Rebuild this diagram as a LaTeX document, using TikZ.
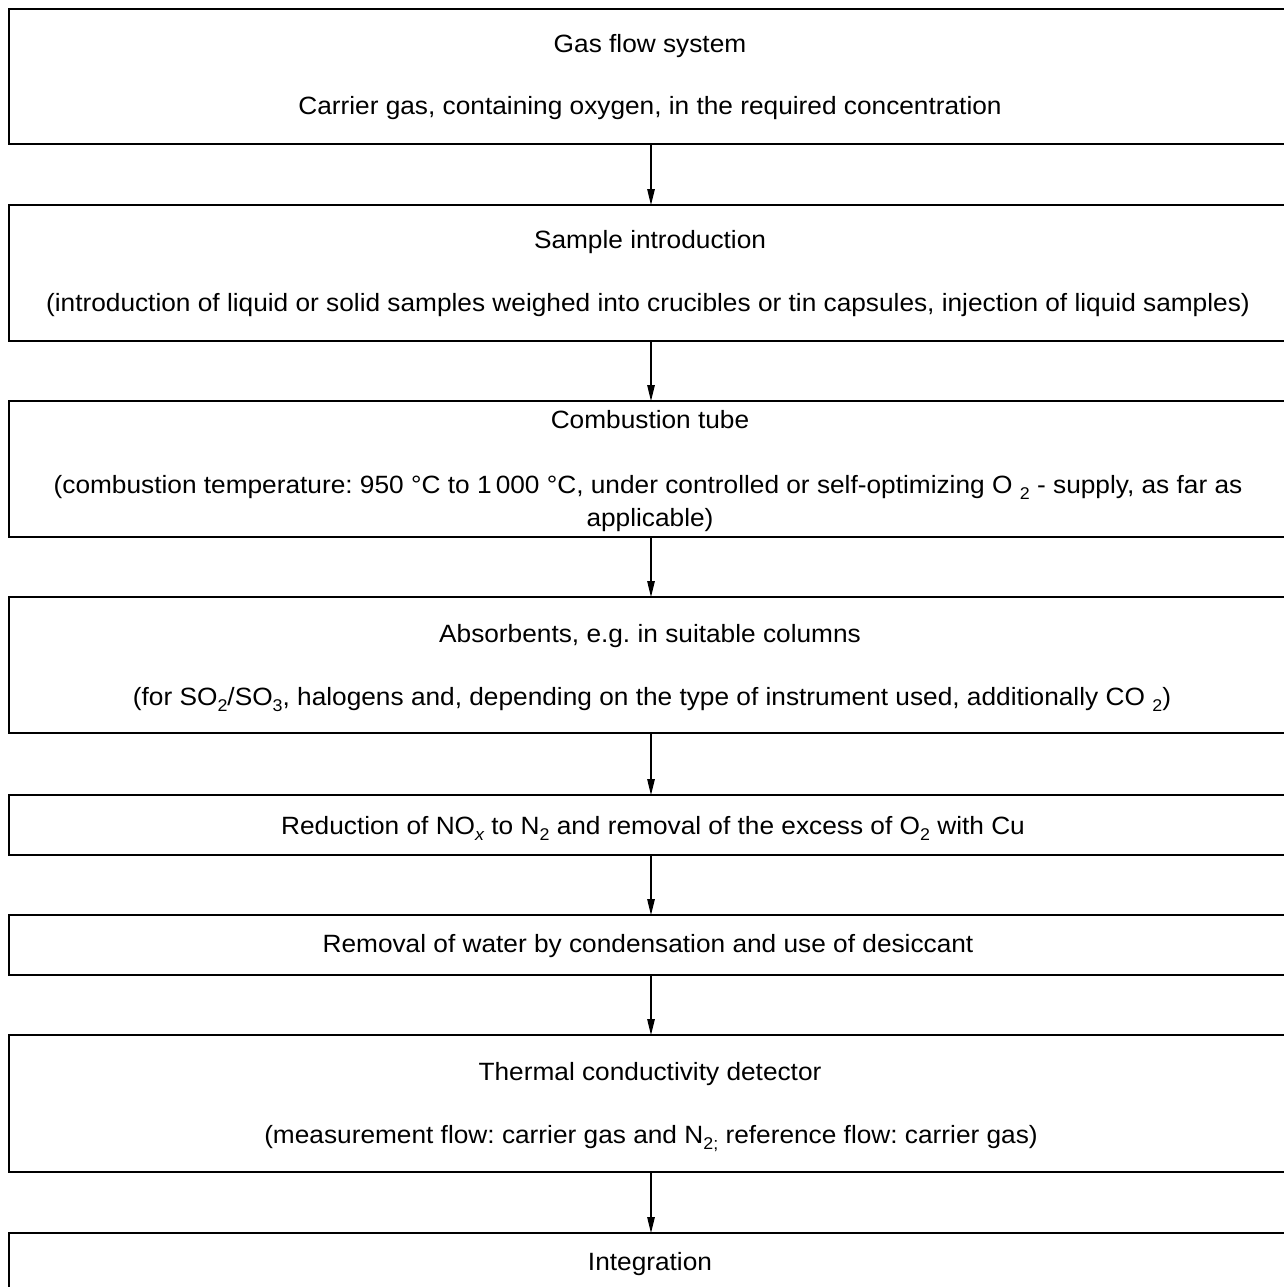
\documentclass[tikz,border=0pt]{standalone}
\usepackage{fontspec}
\setmainfont[FakeStretch=1.05]{Liberation Sans}
\usetikzlibrary{arrows.meta}
\newcommand{\lowsub}[1]{\raisebox{-0.25em}{\fontsize{17}{17}\selectfont #1}}
\frenchspacing
\begin{document}
\begin{tikzpicture}[x=1pt,y=-1pt,
  box/.style={draw, line width=1.8pt, minimum width=1284pt, inner sep=0pt, outer sep=0pt},
  txt/.style={font=\fontsize{25}{30}\selectfont, inner sep=0pt, anchor=base},
  flow/.style={line width=1.3pt, -{Triangle[length=16pt,width=7.5pt]}}]
\useasboundingbox (0,0) rectangle (1284,1287);
\clip (0,0) rectangle (1284,1287);
% boxes
\node[box, minimum height=135pt] (b1) at (651,76.5) {};
\node[box, minimum height=136pt] (b2) at (651,273) {};
\node[box, minimum height=136pt] (b3) at (651,469) {};
\node[box, minimum height=136pt] (b4) at (651,665) {};
\node[box, minimum height=60pt] (b5) at (651,825) {};
\node[box, minimum height=60pt] (b6) at (651,945) {};
\node[box, minimum height=137pt] (b7) at (651,1103.5) {};
\node[box, minimum height=136pt] (b8) at (651,1301) {};
% texts
\node[txt] (t1a) at (650,52.3) {Gas flow system};
\node[txt] (t1b) at (650,114.3) {Carrier gas, containing oxygen, in the required concentration};
\node[txt] (t2a) at (650,248.5) {Sample introduction};
\node[txt] (t2b) at (648,311.5) {(introduction of liquid or solid samples weighed into crucibles or tin capsules, injection of liquid samples)};
\node[txt] (t3a) at (650,428.5) {Combustion tube};
\node[txt] (t3b) at (648,493) {(combustion temperature: 950 \textdegree C to 1\,000 \textdegree C, under controlled or self-optimizing O \lowsub{2} - supply, as far as};
\node[txt] (t3c) at (650,526.5) {applicable)};
\node[txt] (t4a) at (650,642) {Absorbents, e.g. in suitable columns};
\node[txt] (t4b) at (652,705) {(for SO\lowsub{2}/SO\lowsub{3}, halogens and, depending on the type of instrument used, additionally CO \lowsub{2})};
\node[txt] (t5) at (653,834.5) {Reduction of NO\lowsub{\itshape x} to N\lowsub{2} and removal of the excess of O\lowsub{2} with Cu};
\node[txt] (t6) at (648,952.5) {Removal of water by condensation and use of desiccant};
\node[txt] (t7a) at (650,1080) {Thermal conductivity detector};
\node[txt] (t7b) at (651,1143.5) {(measurement flow: carrier gas and N\lowsub{2;} reference flow: carrier gas)};
\node[txt] (t8) at (650,1270) {Integration};
% arrows
\draw[flow] (b1.south -| 651,0) -- (b2.north -| 651,0);
\draw[flow] (b2.south -| 651,0) -- (b3.north -| 651,0);
\draw[flow] (b3.south -| 651,0) -- (b4.north -| 651,0);
\draw[flow] (b4.south -| 651,0) -- (b5.north -| 651,0);
\draw[flow] (b5.south -| 651,0) -- (b6.north -| 651,0);
\draw[flow] (b6.south -| 651,0) -- (b7.north -| 651,0);
\draw[flow] (b7.south -| 651,0) -- (b8.north -| 651,0);
\end{tikzpicture}
\end{document}
